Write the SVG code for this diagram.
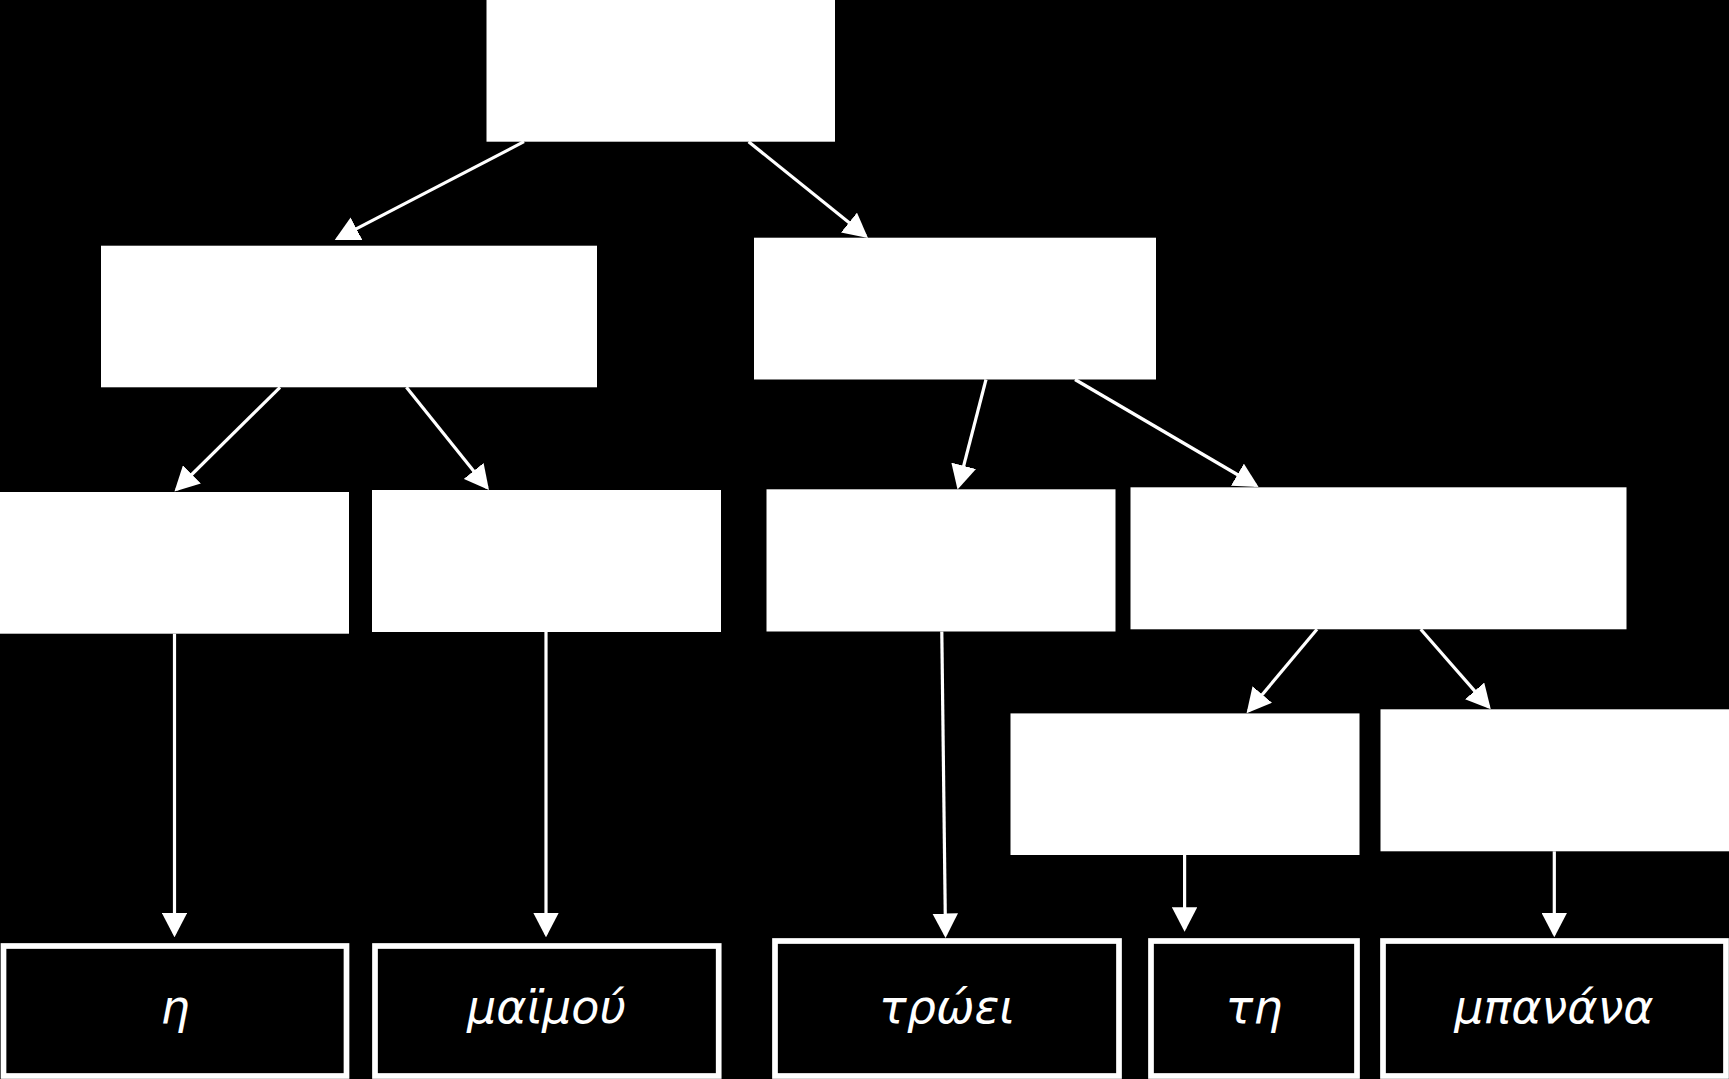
<svg xmlns="http://www.w3.org/2000/svg" width="1729" height="1079" viewBox="0 0 1729 1079">
  <defs>
    <style>
      .box { fill: #ffffff; stroke: none; }
      .leaf { fill: #000000; stroke: #ffffff; stroke-width: 5.7; }
      .edge { stroke: #ffffff; stroke-width: 3.2; fill: none; marker-end: url(#arrow); }
      .lbl { fill: #ffffff; font-family: "DejaVu Sans", "Noto Sans", sans-serif; font-style: oblique; font-weight: normal; font-size: 46px; text-anchor: middle; }
    </style>
    <marker id="arrow" markerUnits="userSpaceOnUse" viewBox="0 0 24.5 25.5" refX="21.5" refY="12.75" markerWidth="24.5" markerHeight="25.5" orient="auto">
      <path d="M0,0 L24.5,12.75 L0,25.5 z" fill="#ffffff"/>
    </marker>
  </defs>
  <rect x="0" y="0" width="1729" height="1079" fill="#000000"/>

  <g id="connectors">
    <line class="edge" x1="524" y1="141.7" x2="337.4" y2="238.6"/>
    <line class="edge" x1="748.6" y1="141.7" x2="865.7" y2="236.1"/>
    <line class="edge" x1="280" y1="387.3" x2="176.6" y2="489.5"/>
    <line class="edge" x1="406.4" y1="387.3" x2="487.1" y2="487.7"/>
    <line class="edge" x1="986" y1="379.5" x2="958.3" y2="486.6"/>
    <line class="edge" x1="1075" y1="379.5" x2="1256" y2="485.5"/>
    <line class="edge" x1="1317" y1="629.3" x2="1248.5" y2="711"/>
    <line class="edge" x1="1420.7" y1="629.3" x2="1488.8" y2="707.1"/>
    <line class="edge" x1="174.5" y1="633.7" x2="174.5" y2="934.3"/>
    <line class="edge" x1="546" y1="632" x2="546" y2="934.3"/>
    <line class="edge" x1="941.8" y1="631.5" x2="945.5" y2="935"/>
    <line class="edge" x1="1184.6" y1="855" x2="1184.6" y2="928.7"/>
    <line class="edge" x1="1554.3" y1="851.3" x2="1554.3" y2="934.3"/>
  </g>

  <g id="node-root"><rect class="box" x="486.5" y="-2" width="348.5" height="143.7"/></g>
  <g id="node-np"><rect class="box" x="101" y="245.7" width="496" height="141.6"/></g>
  <g id="node-vp"><rect class="box" x="754" y="237.7" width="402" height="141.8"/></g>
  <g id="node-det"><rect class="box" x="-2" y="492" width="351" height="141.7"/></g>
  <g id="node-n"><rect class="box" x="372" y="490" width="349" height="142"/></g>
  <g id="node-v"><rect class="box" x="766.5" y="489.3" width="349" height="142.2"/></g>
  <g id="node-np2"><rect class="box" x="1130.5" y="487.3" width="496" height="142"/></g>
  <g id="node-d"><rect class="box" x="1010.5" y="713.4" width="349" height="141.6"/></g>
  <g id="node-n2"><rect class="box" x="1380.5" y="709.3" width="352" height="142"/></g>

  <g id="leaf-i">
    <rect class="leaf" x="3.5" y="946" width="343" height="130"/>
    <text class="lbl" x="175" y="1023">η</text>
  </g>
  <g id="leaf-maimou">
    <rect class="leaf" x="375" y="946" width="343.7" height="130"/>
    <text class="lbl" x="546.5" y="1023">μαϊμού</text>
  </g>
  <g id="leaf-troei">
    <rect class="leaf" x="775" y="941" width="344" height="135"/>
    <text class="lbl" x="947" y="1023">τρώει</text>
  </g>
  <g id="leaf-ti">
    <rect class="leaf" x="1151" y="941" width="206" height="135"/>
    <text class="lbl" x="1254" y="1023">τη</text>
  </g>
  <g id="leaf-banana">
    <rect class="leaf" x="1383" y="941" width="343" height="135"/>
    <text class="lbl" x="1554" y="1023">μπανάνα</text>
  </g>
</svg>
